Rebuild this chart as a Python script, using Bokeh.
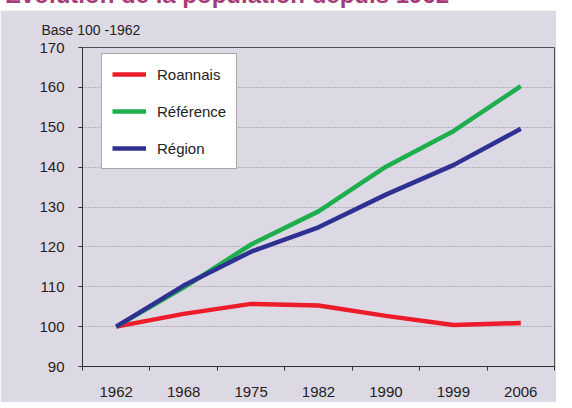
from bokeh.plotting import figure
from bokeh.models import (FixedTicker, Legend, LegendItem, Title, Div, Range1d)
from bokeh.layouts import column
from bokeh.embed import file_html
from bokeh.resources import INLINE

years = ["1962", "1968", "1975", "1982", "1990", "1999", "2006"]
roannais = [100, 103.2, 105.7, 105.3, 102.7, 100.4, 100.9]
reference = [100, 109.8, 120.6, 128.9, 140.1, 149.0, 160.3]
region = [100, 110.3, 118.8, 124.9, 133.1, 140.5, 149.6]
y_ticks = [90, 100, 110, 120, 130, 140, 150, 160, 170]

xpos = [i + 0.5 for i in range(len(years))]
bounds = list(range(len(years) + 1))

BG = "#DDD9E4"
FONT = "'Liberation Sans'"

p = figure(width=556, height=392, output_backend="svg", toolbar_location=None,
           x_range=Range1d(0, len(years)), y_range=Range1d(90, 170),
           min_border_left=82, min_border_right=2, min_border_top=37,
           min_border_bottom=36)
p.background_fill_color = BG
p.border_fill_color = BG
p.outline_line_color = "#505050"
p.outline_line_width = 1

r1 = p.line(xpos, roannais, line_color="#EC1C2A", line_width=4.5)
r2 = p.line(xpos, reference, line_color="#1DAE4E", line_width=4.5)
r3 = p.line(xpos, region, line_color="#2E3192", line_width=4.5)

xa = p.xaxis[0]
xa.ticker = FixedTicker(ticks=xpos, minor_ticks=bounds)
xa.major_label_overrides = {x: y for x, y in zip(xpos, years)}
xa.major_tick_out = 0
xa.major_tick_in = 0
xa.minor_tick_out = 4
xa.minor_tick_in = 0
xa.minor_tick_line_color = "#303030"
xa.axis_line_color = "#303030"
xa.major_label_standoff = 16
xa.major_label_text_font = FONT
xa.major_label_text_font_size = "15px"
xa.major_label_text_color = "#222222"

ya = p.yaxis[0]
ya.ticker = FixedTicker(ticks=y_ticks)
ya.major_tick_out = 4
ya.major_tick_in = 0
ya.minor_tick_out = 0
ya.minor_tick_in = 0
ya.major_tick_line_color = "#303030"
ya.axis_line_color = "#303030"
ya.major_label_standoff = 14
ya.major_label_text_font = FONT
ya.major_label_text_font_size = "15px"
ya.major_label_text_color = "#222222"

p.xgrid.visible = False
p.ygrid.ticker = FixedTicker(ticks=y_ticks)
p.ygrid.grid_line_color = "#8a8a8a"
p.ygrid.grid_line_dash = "1 2"
p.ygrid.grid_line_width = 1

legend = Legend(items=[LegendItem(label="Roannais", renderers=[r1]),
                       LegendItem(label="Référence", renderers=[r2]),
                       LegendItem(label="Région", renderers=[r3])],
                location=(19, 197))
legend.background_fill_color = "white"
legend.background_fill_alpha = 1
legend.border_line_color = "#505050"
legend.border_line_width = 1
legend.label_text_font = FONT
legend.label_text_font_size = "15px"
legend.label_text_color = "#222222"
legend.glyph_width = 34
legend.glyph_height = 20
legend.label_height = 20
legend.label_standoff = 11
legend.spacing = 17
legend.padding = 10
legend.margin = 0
p.add_layout(legend, "center")

base = Title(text="Base 100 -1962", align="left", offset=-41, standoff=19,
             text_font=FONT, text_font_size="14px", text_font_style="normal",
             text_color="#222222")
p.add_layout(base, "above")

title = Div(text='<span style="position:relative; top:-24px; font:bold 24px \'Liberation Sans\', Arial, sans-serif; '
                 'color:#A63C7A; white-space:nowrap;">Évolution de la population depuis 1962</span>',
            width=556, height=0, styles={"overflow": "visible"})

layout = column(title, p, spacing=0)

open("out.html", "w").write(file_html(layout, INLINE))
